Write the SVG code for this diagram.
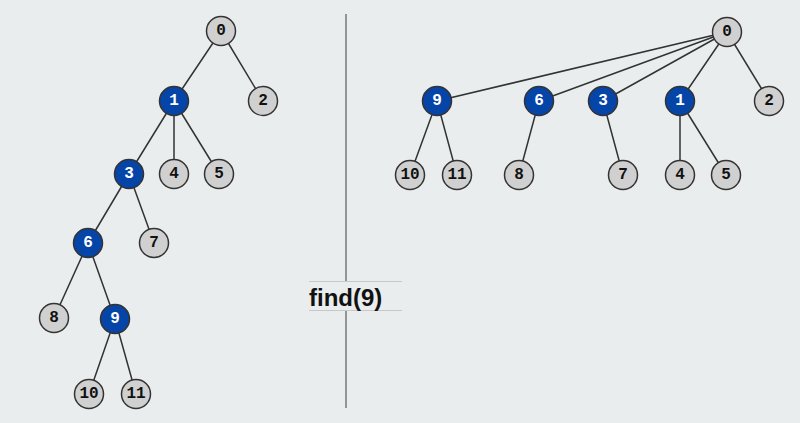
<svg xmlns="http://www.w3.org/2000/svg" width="800" height="423" viewBox="0 0 800 423">
<style>
.e{stroke:#333;stroke-width:1.5;fill:none}
.g circle{fill:#d0d0d0;stroke:#333;stroke-width:1.5}
.b circle{fill:#0645a8;stroke:#333;stroke-width:1.5}
.g text,.b text{font-family:"Liberation Mono","DejaVu Sans Mono",monospace;font-weight:bold;font-size:16px;text-anchor:middle;dominant-baseline:central}
.g text{fill:#111}
.b text{fill:#fff}
</style>
<rect width="800" height="423" fill="#e9edee"/>
<line x1="346" y1="14" x2="346" y2="408" stroke="#777" stroke-width="1.5"/>
<g id="edges">
<path class="e" d="M221,31L174,101M221,31L263,101M174,101L129,174M174,101L174,174M174,101L219,174M129,174L88,243M129,174L154,243M88,243L54,318M88,243L115,319M115,319L89,394M115,319L136,394"/>
<path class="e" d="M727,32L437,101M727,32L539,101M727,32L603,101M727,32L680,101M727,32L769,101M437,101L410,175M437,101L457,175M539,101L519,175M603,101L623,175M680,101L680,175M680,101L726,175"/>
</g>
<g id="L0" class="g"><circle cx="221" cy="31" r="14.5"/><text x="221" y="31">0</text></g>
<g id="L1" class="b"><circle cx="174" cy="101" r="14.5"/><text x="174" y="101">1</text></g>
<g id="L2" class="g"><circle cx="263" cy="101" r="14.5"/><text x="263" y="101">2</text></g>
<g id="L3" class="b"><circle cx="129" cy="174" r="14.5"/><text x="129" y="174">3</text></g>
<g id="L4" class="g"><circle cx="174" cy="174" r="14.5"/><text x="174" y="174">4</text></g>
<g id="L5" class="g"><circle cx="219" cy="174" r="14.5"/><text x="219" y="174">5</text></g>
<g id="L6" class="b"><circle cx="88" cy="243" r="14.5"/><text x="88" y="243">6</text></g>
<g id="L7" class="g"><circle cx="154" cy="243" r="14.5"/><text x="154" y="243">7</text></g>
<g id="L8" class="g"><circle cx="54" cy="318" r="14.5"/><text x="54" y="318">8</text></g>
<g id="L9" class="b"><circle cx="115" cy="319" r="14.5"/><text x="115" y="319">9</text></g>
<g id="L10" class="g"><circle cx="89" cy="394" r="14.5"/><text x="89" y="394">10</text></g>
<g id="L11" class="g"><circle cx="136" cy="394" r="14.5"/><text x="136" y="394">11</text></g>
<g id="R0" class="g"><circle cx="727" cy="32" r="14.5"/><text x="727" y="32">0</text></g>
<g id="R9" class="b"><circle cx="437" cy="101" r="14.5"/><text x="437" y="101">9</text></g>
<g id="R6" class="b"><circle cx="539" cy="101" r="14.5"/><text x="539" y="101">6</text></g>
<g id="R3" class="b"><circle cx="603" cy="101" r="14.5"/><text x="603" y="101">3</text></g>
<g id="R1" class="b"><circle cx="680" cy="101" r="14.5"/><text x="680" y="101">1</text></g>
<g id="R2" class="g"><circle cx="769" cy="101" r="14.5"/><text x="769" y="101">2</text></g>
<g id="R10" class="g"><circle cx="410" cy="175" r="14.5"/><text x="410" y="175">10</text></g>
<g id="R11" class="g"><circle cx="457" cy="175" r="14.5"/><text x="457" y="175">11</text></g>
<g id="R8" class="g"><circle cx="519" cy="175" r="14.5"/><text x="519" y="175">8</text></g>
<g id="R7" class="g"><circle cx="623" cy="175" r="14.5"/><text x="623" y="175">7</text></g>
<g id="R4" class="g"><circle cx="680" cy="175" r="14.5"/><text x="680" y="175">4</text></g>
<g id="R5" class="g"><circle cx="726" cy="175" r="14.5"/><text x="726" y="175">5</text></g>
<g id="label">
<rect x="309" y="281" width="93" height="29" fill="#e9edee"/>
<line x1="309" y1="281.5" x2="402" y2="281.5" stroke="#c8c8c8" stroke-width="1"/>
<line x1="309" y1="310.5" x2="402" y2="310.5" stroke="#c8c8c8" stroke-width="1"/>
<text x="309" y="306" font-family="Liberation Sans,Arial,sans-serif" font-weight="bold" font-size="24" fill="#111">find(9)</text>
</g>
</svg>
